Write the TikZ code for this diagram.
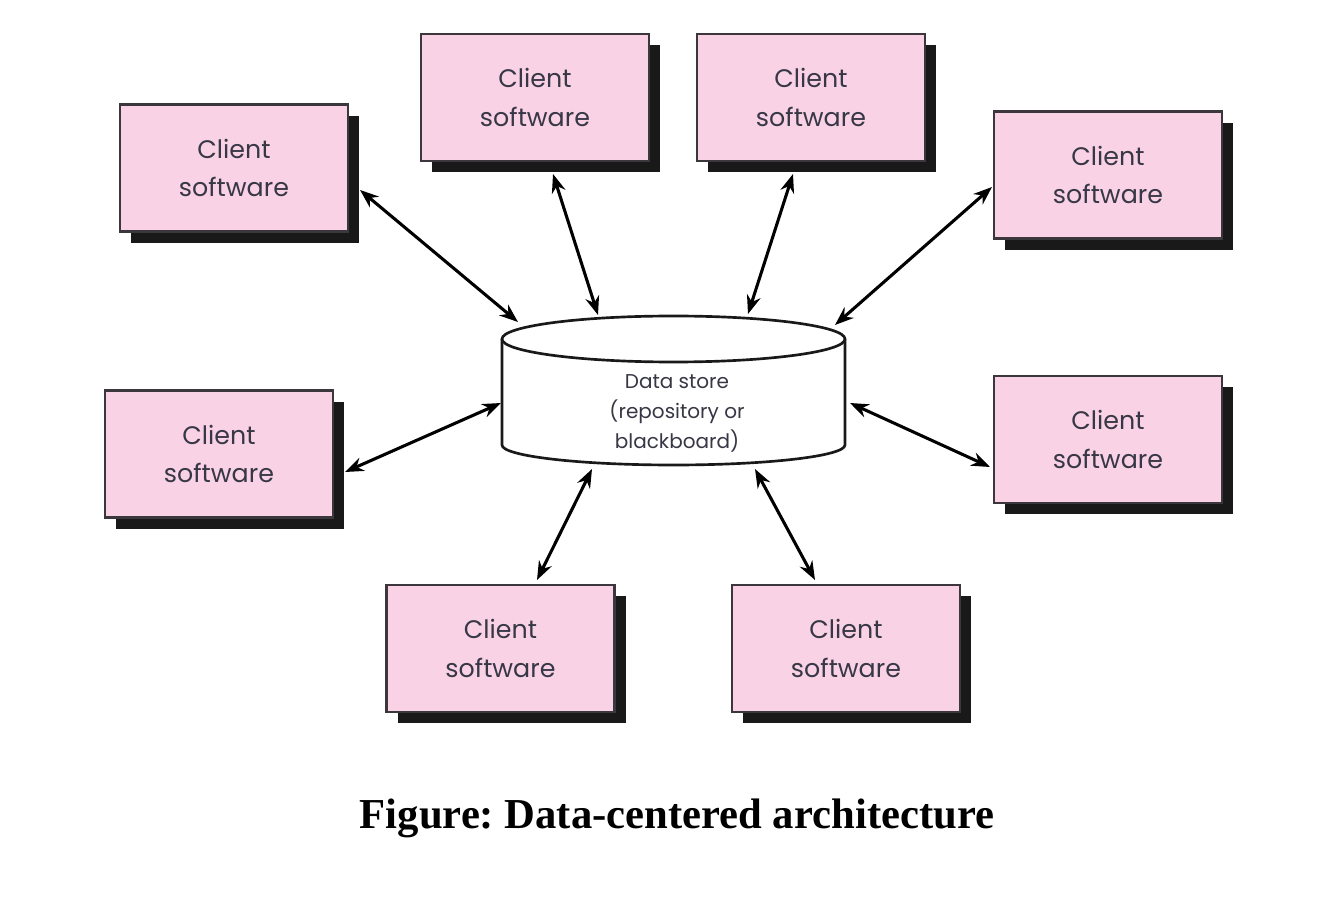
\documentclass[tikz,border=0pt]{standalone}
\usepackage{fontspec}
\setmainfont{Liberation Serif}
\newfontfamily\boxfont{Poppins}
\usetikzlibrary{arrows.meta}
\definecolor{pinkfill}{RGB}{249,211,229}
\definecolor{boxline}{RGB}{60,55,60}
\definecolor{txtcol}{RGB}{55,55,70}
\frenchspacing
\tikzset{
  client/.style={draw=boxline, line width=1.8pt, fill=pinkfill, minimum width=171pt, minimum height=95pt,
    inner sep=0pt, align=center, text=txtcol, font=\boxfont\fontsize{19}{29}\selectfont,
    preaction={fill=black!90, transform canvas={shift={(8.5pt,-8.5pt)}}}},
  link/.style={line width=2.3pt, {Stealth[length=14pt,width=10.5pt]}-{Stealth[length=14pt,width=10.5pt]}},
  cyl/.style={draw=black!90, line width=2pt, fill=white}
}
\begin{document}
\begin{tikzpicture}[x=0.75pt,y=-0.75pt]
\useasboundingbox (0,0) rectangle (1340,912);
% boxes
\node[client] (b1) at (234,168) {Client\\software};
\node[client] (b2) at (535,97.5) {Client\\software};
\node[client] (b3) at (811,97.5) {Client\\software};
\node[client] (b4) at (1108,175) {Client\\software};
\node[client] (b5) at (219,454) {Client\\software};
\node[client] (b6) at (1108,439.5) {Client\\software};
\node[client] (b7) at (500.5,648.5) {Client\\software};
\node[client] (b8) at (846,648.5) {Client\\software};
% cylinder
\draw[cyl] (502,339) -- (502,445) arc[start angle=180, end angle=0, x radius=171.5, y radius=20] -- (845,339);
\draw[cyl] (673.5,339) ellipse[x radius=171.5, y radius=23];
\node[align=center, text=txtcol, font=\boxfont\fontsize{15}{22.5}\selectfont] (ds) at (677,413) {Data store\\(repository or\\blackboard)};
% endpoints
\coordinate (e1) at (360,190); \coordinate (d1) at (518,322);
\coordinate (e2) at (553,174); \coordinate (d2) at (598,315);
\coordinate (e3) at (793,174); \coordinate (d3) at (748,314);
\coordinate (e4) at (992,187); \coordinate (d4) at (835,325);
\coordinate (e5) at (345,472); \coordinate (d5) at (501,403);
\coordinate (e6) at (990,467); \coordinate (d6) at (850,403);
\coordinate (e7) at (537,580); \coordinate (d7) at (592,469);
\coordinate (e8) at (815,580); \coordinate (d8) at (755,469);
\foreach \i in {1,...,8} {\draw[link] (e\i) -- (d\i);}
% caption
\node[font=\bfseries\fontsize{32}{38}\selectfont] (cap) at (677,818) {Figure: Data-centered architecture};
\end{tikzpicture}
\end{document}
